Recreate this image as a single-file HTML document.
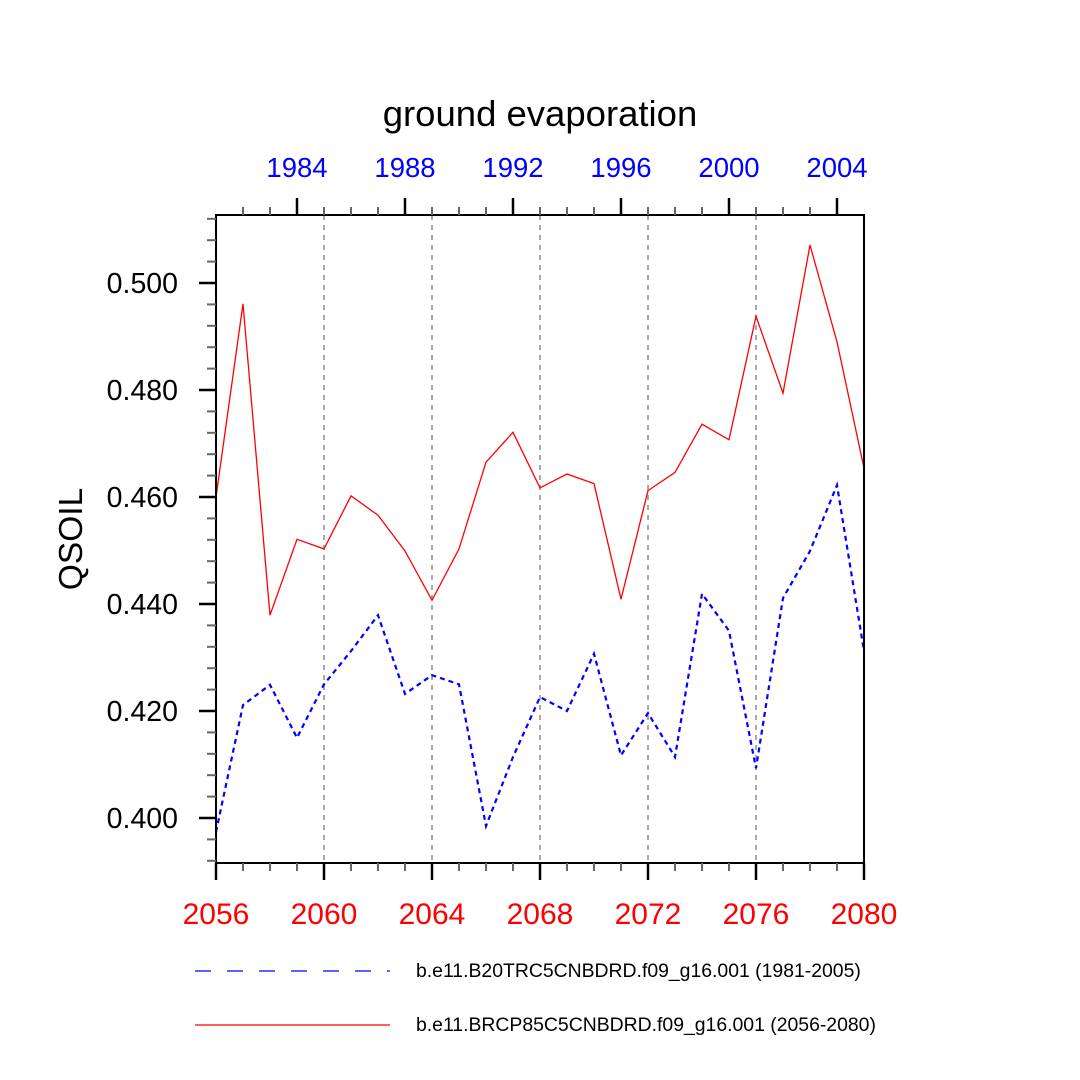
<!DOCTYPE html>
<html><head><meta charset="utf-8"><style>body{margin:0;background:#fff}svg{display:block}text{font-family:"Liberation Sans",Arial,sans-serif}</style></head>
<body>
<svg id="chart" width="1080" height="1080" xmlns="http://www.w3.org/2000/svg">
<text x="540" y="126" text-anchor="middle" font-size="36.5">ground evaporation</text>
<text x="82" y="539" text-anchor="middle" font-size="33.5" transform="rotate(-90 82 539)">QSOIL</text>
<g id="grid"></g><g id="series"></g><g id="axes"></g>
<g>
<line x1="195" y1="971" x2="390" y2="971" stroke="#00f" stroke-width="1.2" stroke-dasharray="16,16"/>
<text x="416" y="977" font-size="19.4">b.e11.B20TRC5CNBDRD.f09_g16.001 (1981-2005)</text>
<line x1="195" y1="1025" x2="390" y2="1025" stroke="#f00" stroke-width="1.2"/>
<text x="416" y="1031" font-size="19.4">b.e11.BRCP85C5CNBDRD.f09_g16.001 (2056-2080)</text>
</g>
</svg>
<script>
const years=[2056,2057,2058,2059,2060,2061,2062,2063,2064,2065,2066,2067,2068,2069,2070,2071,2072,2073,2074,2075,2076,2077,2078,2079,2080];
const futureValues=[0.4600,0.4961,0.4379,0.4521,0.4503,0.4602,0.4566,0.4499,0.4407,0.4503,0.4665,0.4721,0.4617,0.4643,0.4625,0.4409,0.4612,0.4646,0.4736,0.4707,0.4938,0.4794,0.5071,0.4890,0.4654];
const historicalValues=[0.3974,0.4211,0.4249,0.4150,0.4250,0.4312,0.4379,0.4232,0.4267,0.4250,0.3985,0.4114,0.4226,0.4200,0.4307,0.4117,0.4196,0.4114,0.4419,0.4350,0.4093,0.4411,0.4499,0.4622,0.4312];
const yTicks=[0.400,0.420,0.440,0.460,0.480,0.500];
const bottomTicks=[2056,2060,2064,2068,2072,2076,2080];
const topTickLabels=[1984,1988,1992,1996,2000,2004];
const yearOffset=75;
const X0=216,X1=864,Y0=863,Y1=215,XMIN=2056,XMAX=2080,YMIN=0.39159,YMAX=0.51271;
const sx=v=>X0+(v-XMIN)/(XMAX-XMIN)*(X1-X0);
const sy=v=>Y0-(v-YMIN)/(YMAX-YMIN)*(Y0-Y1);
const NS='http://www.w3.org/2000/svg';
function mk(p,tag,at){const e=document.createElementNS(NS,tag);for(const k in at)e.setAttribute(k,at[k]);p.appendChild(e);return e;}
const grid=document.getElementById('grid'),series=document.getElementById('series'),axes=document.getElementById('axes');
for(let y=2060;y<2080;y+=4){const l=mk(grid,'line',{x1:sx(y),x2:sx(y),y1:Y1,y2:Y0,stroke:'#aaa','stroke-width':2,'stroke-dasharray':'5,5'});

}
function path(vals,color,dash,name){const d=vals.map((v,i)=>(i?'L':'M')+sx(years[i]).toFixed(1)+' '+sy(v).toFixed(1)).join(' ');
const p=mk(series,'path',{d:d,fill:'none',stroke:color,'stroke-width':dash?2.2:1.3});if(dash)p.setAttribute('stroke-dasharray','5,4');

}
path(historicalValues,'#00f',true,'historical-series-line');
path(futureValues,'#f00',false,'future-series-line');
const fr=mk(axes,'rect',{x:X0,y:Y1,width:X1-X0,height:Y0-Y1,fill:'none',stroke:'#000','stroke-width':2});


for(let y=XMIN;y<=XMAX;y++){const maj=(y-XMIN)%4===0;
const t=mk(axes,'line',{x1:sx(y),x2:sx(y),y1:Y0,y2:Y0+(maj?17:8),stroke:maj?'#000':'#666','stroke-width':maj?2.5:2});


if(y>XMIN&&y<XMAX){const tm=(y-2059)%4===0;
const u=mk(axes,'line',{x1:sx(y),x2:sx(y),y1:Y1,y2:Y1-(tm?17:8),stroke:tm?'#000':'#666','stroke-width':tm?2.5:2});

}}
bottomTicks.forEach(y=>{const t=mk(axes,'text',{x:sx(y),y:924,'text-anchor':'middle','font-size':30,fill:'#f00'});t.textContent=y;

});
topTickLabels.forEach(y=>{const t=mk(axes,'text',{x:sx(y+yearOffset),y:177,'text-anchor':'middle','font-size':27.5,fill:'#00f'});t.textContent=y;

});
for(let k=0;k<=30;k++){const v=0.392+k*0.004;if(v>YMAX)break;const maj=Math.abs(((v-0.4)/0.02)-Math.round((v-0.4)/0.02))<1e-6;
const t=mk(axes,'line',{x1:X0,x2:X0-(maj?17:9),y1:sy(v),y2:sy(v),stroke:maj?'#000':'#666','stroke-width':maj?2.5:2});

}
yTicks.forEach(v=>{const t=mk(axes,'text',{x:178,y:sy(v)+10,'text-anchor':'end','font-size':28.5});t.textContent=v.toFixed(3);

});
</script>
</body></html>
